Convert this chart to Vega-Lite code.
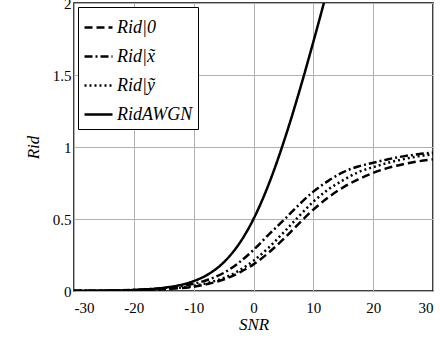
{
  "$schema": "https://vega.github.io/schema/vega-lite/v6.json",
  "width": 359,
  "height": 288,
  "autosize": {"type": "none"},
  "padding": {"left": 74, "top": 3, "right": 7, "bottom": 49},
  "background": "white",
  "config": {
    "view": {"stroke": "black", "strokeWidth": 1.5},
    "font": "Liberation Serif"
  },
  "data": {"values": [
    {"snr": -30, "rate": 0.001, "series": "Rid|0"},
    {"snr": -25, "rate": 0.002, "series": "Rid|0"},
    {"snr": -20, "rate": 0.005, "series": "Rid|0"},
    {"snr": -15, "rate": 0.012, "series": "Rid|0"},
    {"snr": -12.5, "rate": 0.019, "series": "Rid|0"},
    {"snr": -10, "rate": 0.03, "series": "Rid|0"},
    {"snr": -7.5, "rate": 0.05, "series": "Rid|0"},
    {"snr": -5, "rate": 0.08, "series": "Rid|0"},
    {"snr": -2.5, "rate": 0.125, "series": "Rid|0"},
    {"snr": 0, "rate": 0.185, "series": "Rid|0"},
    {"snr": 2.5, "rate": 0.265, "series": "Rid|0"},
    {"snr": 5, "rate": 0.36, "series": "Rid|0"},
    {"snr": 7.5, "rate": 0.465, "series": "Rid|0"},
    {"snr": 10, "rate": 0.565, "series": "Rid|0"},
    {"snr": 12.5, "rate": 0.65, "series": "Rid|0"},
    {"snr": 15, "rate": 0.72, "series": "Rid|0"},
    {"snr": 17.5, "rate": 0.775, "series": "Rid|0"},
    {"snr": 20, "rate": 0.82, "series": "Rid|0"},
    {"snr": 22.5, "rate": 0.855, "series": "Rid|0"},
    {"snr": 25, "rate": 0.88, "series": "Rid|0"},
    {"snr": 27.5, "rate": 0.9, "series": "Rid|0"},
    {"snr": 30, "rate": 0.915, "series": "Rid|0"},

    {"snr": -30, "rate": 0.001, "series": "Rid|x̃"},
    {"snr": -25, "rate": 0.003, "series": "Rid|x̃"},
    {"snr": -20, "rate": 0.008, "series": "Rid|x̃"},
    {"snr": -15, "rate": 0.02, "series": "Rid|x̃"},
    {"snr": -12.5, "rate": 0.032, "series": "Rid|x̃"},
    {"snr": -10, "rate": 0.05, "series": "Rid|x̃"},
    {"snr": -7.5, "rate": 0.08, "series": "Rid|x̃"},
    {"snr": -5, "rate": 0.125, "series": "Rid|x̃"},
    {"snr": -2.5, "rate": 0.195, "series": "Rid|x̃"},
    {"snr": 0, "rate": 0.285, "series": "Rid|x̃"},
    {"snr": 2.5, "rate": 0.39, "series": "Rid|x̃"},
    {"snr": 5, "rate": 0.49, "series": "Rid|x̃"},
    {"snr": 7.5, "rate": 0.595, "series": "Rid|x̃"},
    {"snr": 10, "rate": 0.69, "series": "Rid|x̃"},
    {"snr": 12.5, "rate": 0.765, "series": "Rid|x̃"},
    {"snr": 15, "rate": 0.825, "series": "Rid|x̃"},
    {"snr": 17.5, "rate": 0.865, "series": "Rid|x̃"},
    {"snr": 20, "rate": 0.89, "series": "Rid|x̃"},
    {"snr": 22.5, "rate": 0.915, "series": "Rid|x̃"},
    {"snr": 25, "rate": 0.935, "series": "Rid|x̃"},
    {"snr": 27.5, "rate": 0.95, "series": "Rid|x̃"},
    {"snr": 30, "rate": 0.96, "series": "Rid|x̃"},

    {"snr": -30, "rate": 0.001, "series": "Rid|ỹ"},
    {"snr": -25, "rate": 0.002, "series": "Rid|ỹ"},
    {"snr": -20, "rate": 0.006, "series": "Rid|ỹ"},
    {"snr": -15, "rate": 0.014, "series": "Rid|ỹ"},
    {"snr": -12.5, "rate": 0.022, "series": "Rid|ỹ"},
    {"snr": -10, "rate": 0.035, "series": "Rid|ỹ"},
    {"snr": -7.5, "rate": 0.058, "series": "Rid|ỹ"},
    {"snr": -5, "rate": 0.09, "series": "Rid|ỹ"},
    {"snr": -2.5, "rate": 0.14, "series": "Rid|ỹ"},
    {"snr": 0, "rate": 0.21, "series": "Rid|ỹ"},
    {"snr": 2.5, "rate": 0.3, "series": "Rid|ỹ"},
    {"snr": 5, "rate": 0.405, "series": "Rid|ỹ"},
    {"snr": 7.5, "rate": 0.515, "series": "Rid|ỹ"},
    {"snr": 10, "rate": 0.62, "series": "Rid|ỹ"},
    {"snr": 12.5, "rate": 0.705, "series": "Rid|ỹ"},
    {"snr": 15, "rate": 0.77, "series": "Rid|ỹ"},
    {"snr": 17.5, "rate": 0.825, "series": "Rid|ỹ"},
    {"snr": 20, "rate": 0.86, "series": "Rid|ỹ"},
    {"snr": 22.5, "rate": 0.89, "series": "Rid|ỹ"},
    {"snr": 25, "rate": 0.915, "series": "Rid|ỹ"},
    {"snr": 27.5, "rate": 0.935, "series": "Rid|ỹ"},
    {"snr": 30, "rate": 0.95, "series": "Rid|ỹ"},

    {"snr": -30, "rate": 0.0007, "series": "RidAWGN"},
    {"snr": -25, "rate": 0.0023, "series": "RidAWGN"},
    {"snr": -20, "rate": 0.0072, "series": "RidAWGN"},
    {"snr": -15, "rate": 0.0224, "series": "RidAWGN"},
    {"snr": -12.5, "rate": 0.0395, "series": "RidAWGN"},
    {"snr": -10, "rate": 0.0688, "series": "RidAWGN"},
    {"snr": -7.5, "rate": 0.118, "series": "RidAWGN"},
    {"snr": -5, "rate": 0.198, "series": "RidAWGN"},
    {"snr": -4, "rate": 0.242, "series": "RidAWGN"},
    {"snr": -2.5, "rate": 0.322, "series": "RidAWGN"},
    {"snr": -2, "rate": 0.353, "series": "RidAWGN"},
    {"snr": 0, "rate": 0.5, "series": "RidAWGN"},
    {"snr": 2, "rate": 0.685, "series": "RidAWGN"},
    {"snr": 2.5, "rate": 0.737, "series": "RidAWGN"},
    {"snr": 4, "rate": 0.906, "series": "RidAWGN"},
    {"snr": 5, "rate": 1.029, "series": "RidAWGN"},
    {"snr": 6, "rate": 1.158, "series": "RidAWGN"},
    {"snr": 7.5, "rate": 1.364, "series": "RidAWGN"},
    {"snr": 8, "rate": 1.435, "series": "RidAWGN"},
    {"snr": 9, "rate": 1.581, "series": "RidAWGN"},
    {"snr": 10, "rate": 1.73, "series": "RidAWGN"},
    {"snr": 11, "rate": 1.882, "series": "RidAWGN"},
    {"snr": 12, "rate": 2.037, "series": "RidAWGN"}
  ]},
  "mark": {"type": "line", "clip": true, "interpolate": "monotone", "strokeWidth": 2.5, "color": "black"},
  "encoding": {
    "x": {
      "field": "snr", "type": "quantitative",
      "scale": {"domain": [-30, 30], "nice": false},
      "axis": {
        "values": [-30, -20, -10, 0, 10, 20, 30],
        "labelExpr": "datum.value + ''",
        "title": "SNR", "titleFont": "Liberation Serif", "titleFontStyle": "italic", "titleFontWeight": "normal",
        "titleFontSize": 17, "titlePadding": 1, "titleColor": "black",
        "labelFont": "Liberation Serif", "labelFontSize": 15, "labelColor": "black", "labelPadding": 9,
        "ticks": false, "domain": false,
        "grid": true, "gridColor": "#b0b0b0", "gridWidth": 1
      }
    },
    "y": {
      "field": "rate", "type": "quantitative",
      "scale": {"domain": [0, 2], "nice": false},
      "axis": {
        "values": [0, 0.5, 1, 1.5, 2],
        "labelExpr": "datum.value + ''",
        "title": "Rid", "titleFont": "Liberation Serif", "titleFontStyle": "italic", "titleFontWeight": "normal",
        "titleFontSize": 17, "titlePadding": 10, "titleColor": "black",
        "labelFont": "Liberation Serif", "labelFontSize": 15, "labelColor": "black", "labelPadding": 3,
        "ticks": false, "domain": false,
        "grid": true, "gridColor": "#b0b0b0", "gridWidth": 1
      }
    },
    "strokeDash": {
      "field": "series", "type": "nominal",
      "scale": {
        "domain": ["Rid|0", "Rid|x̃", "Rid|ỹ", "RidAWGN"],
        "range": [[8, 4], [8, 3, 2, 3], [2, 3], [1, 0]]
      },
      "legend": {
        "title": null,
        "orient": "top-left",
        "offset": 4,
        "fillColor": "white",
        "strokeColor": "black",
        "padding": 5,
        "symbolType": "stroke",
        "symbolSize": 784,
        "symbolStrokeWidth": 2.5,
        "symbolStrokeColor": "black",
        "labelFont": "Liberation Serif",
        "labelFontSize": 18,
        "labelFontStyle": "italic",
        "labelColor": "black",
        "labelOffset": 3,
        "rowPadding": 4
      }
    }
  }
}
